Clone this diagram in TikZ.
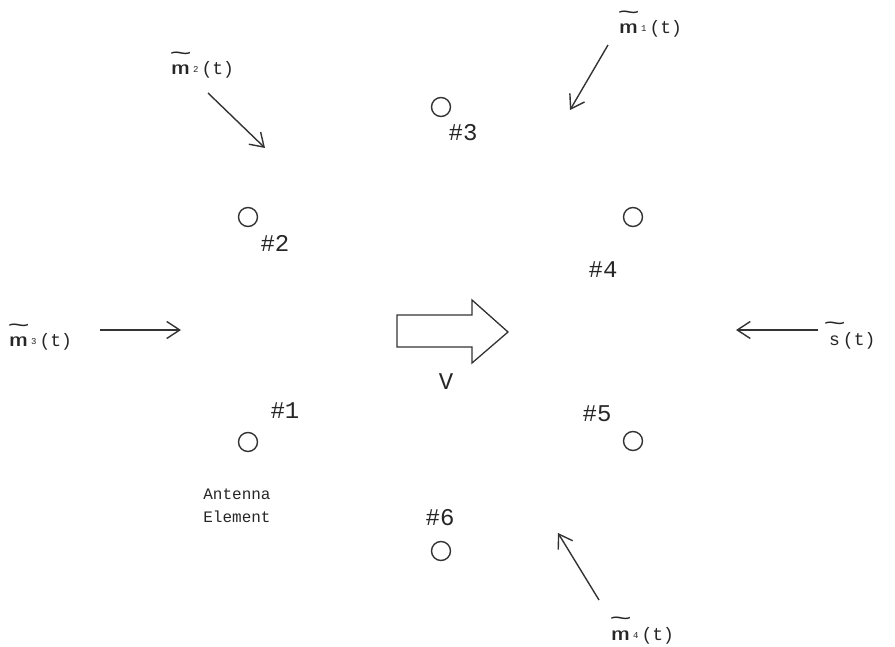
\documentclass[tikz,border=0pt]{standalone}
\usepackage{graphicx}
\usepackage{fontspec}
\setmonofont{Liberation Mono}
\usetikzlibrary{arrows.meta}
\begin{document}
\begin{tikzpicture}[x=1pt,y=-1pt,
  ink/.style={draw=black!80,line width=1.4pt},
  element/.style={ink,circle,minimum size=19pt,inner sep=0pt},
  tag/.style={font=\fontsize{24}{26}\selectfont\ttfamily,inner sep=0pt,text=black!85},
  note/.style={font=\fontsize{16}{23}\selectfont\ttfamily,inner sep=0pt,text=black!85,align=left},
  sig/.style={font=\fontsize{18}{22}\selectfont\ttfamily,inner sep=0pt,text=black!85,anchor=base west},
  wave/.style={ink,-{Straight Barb[length=13pt,width=17pt,line width=1.4pt]}}]
\useasboundingbox (0,0) rectangle (895,647);
% a letter with a wide tilde set well above it
\newcommand{\tl}[1]{\leavevmode\setbox0\hbox{#1}%
  \rlap{\raisebox{\dimexpr\ht0+5pt\relax}{\makebox[\wd0]{\scalebox{2.1}[1.2]{\char"007E}}}}\box0}
% signal name with a small raised index
\newcommand{\msig}[1]{\tl{\scalebox{1.75}[1]{m}}\,\raisebox{2pt}{\fontsize{9}{11}\selectfont #1}\,(t)}
% antenna elements
\node[element] (e3) at (441,107) {};
\node[element] (e2) at (248,217) {};
\node[element] (e4) at (633,217) {};
\node[element] (e1) at (248,442) {};
\node[element] (e5) at (633,441) {};
\node[element] (e6) at (441,551) {};
% element numbers
\node[tag] (n3) at (463,133) {\#3};
\node[tag] (n2) at (275,243) {\#2};
\node[tag] (n4) at (603,270) {\#4};
\node[tag] (n1) at (285,411) {\#1};
\node[tag] (n5) at (597,414) {\#5};
\node[tag] (n6) at (440,518) {\#6};
\node[note] (ant) at (237,506) {Antenna\\Element};
% incoming signals
\node[sig] (m2) at (171,75) {\msig{2}};
\node[sig] (m1) at (619,34) {\msig{1}};
\node[sig] (m3) at (9,347) {\msig{3}};
\node[sig] (s) at (829,345) {\tl{s}\,(t)};
\node[sig] (m4) at (611,640) {\msig{4}};
\coordinate (m2a) at (208,93);  \coordinate (m2b) at (265,148);
\coordinate (m1a) at (608,45);  \coordinate (m1b) at (570,110);
\coordinate (m3a) at (100,330); \coordinate (m3b) at (181,330);
\coordinate (sa) at (818,330);  \coordinate (sb) at (736,330);
\coordinate (m4a) at (599,600); \coordinate (m4b) at (558,533);
\draw[wave] (m2a) -- (m2b);
\draw[wave] (m1a) -- (m1b);
\draw[wave] (m3a) -- (m3b);
\draw[wave] (sa) -- (sb);
\draw[wave] (m4a) -- (m4b);
% motion of the array
\draw[draw=black!80,line width=1.3pt,line join=miter]
  (397,315) -- (472,315) -- (472,300) -- (508,332) -- (472,363) -- (472,347) -- (397,347) -- cycle;
\node[tag] (v) at (446,382) {V};
\end{tikzpicture}
\end{document}
